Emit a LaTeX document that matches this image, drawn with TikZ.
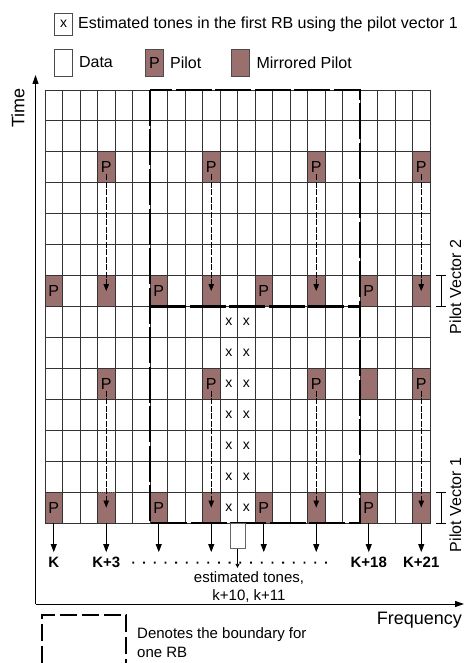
\documentclass[tikz,border=0pt]{standalone}
\usepackage{fontspec}
\setmainfont{Liberation Sans}
\usetikzlibrary{arrows.meta,positioning}
\definecolor{pilotbrown}{RGB}{154,112,110}
\begin{document}
\begin{tikzpicture}[x=1pt, y=-1pt,
    every node/.style={inner sep=0pt, font=\fontsize{16}{19}\selectfont},
    gridline/.style={draw=black!80, line width=0.9pt},
    pilot/.style={draw=black!80, line width=0.9pt, fill=pilotbrown, minimum width=17.5pt, minimum height=30.93pt, font=\fontsize{16}{19}\selectfont},
    keybox/.style={draw=black!70, line width=0.8pt, minimum width=18pt, minimum height=27pt},
    tone/.style={font=\fontsize{14}{16}\selectfont},
    rbline/.style={line width=2.8pt, dash pattern=on 36pt off 3.5pt},
    pvarrow/.style={dash pattern=on 6pt off 1.5pt, line width=0.8pt, -{Triangle[length=7pt,width=5.5pt]}},
    downarrow/.style={line width=1pt, -{Triangle[length=8pt,width=6pt]}},
    axis/.style={line width=1pt, -{Triangle[length=9pt,width=6pt]}},
    bracket/.style={line width=0.8pt, {Bar[width=10pt]}-{Bar[width=10pt]}},
    klabel/.style={font=\bfseries\fontsize{15}{18}\selectfont}]

\useasboundingbox (0,0) rectangle (464,663);

\node[keybox, minimum height=22pt, tone] (keyx) at (63.5,24) {x};
\node[right=5pt of keyx] (keyxtxt) {Estimated tones in the first RB using the pilot vector 1};
\node[keybox] (keydata) at (63.5,62.5) {};
\node[right=6pt of keydata] (keydatatxt) {Data};
\node[keybox, fill=pilotbrown] (keypilot) at (154.5,62.5) {P};
\node[right=6pt of keypilot] (keypilottxt) {Pilot};
\node[keybox, fill=pilotbrown] (keymirror) at (240,62.5) {};
\node[right=7pt of keymirror] (keymirrortxt) {Mirrored Pilot};

\coordinate (origin) at (35.5,604);
\coordinate (timeend) at (35.5,75);
\coordinate (freqend) at (464,604);
\draw[axis] (origin) -- (timeend);
\draw[axis] (origin) -- (freqend);
\node[rotate=90, font=\fontsize{18}{21}\selectfont] (timelbl) at (18,108) {Time};
\node[anchor=east, font=\fontsize{18}{21}\selectfont] (freqlbl) at (462,620) {Frequency};

\begin{scope}[shift={(45pt,-90pt)}, x=17.5pt, y=-30.93pt]
    \foreach \c in {0,...,22} \draw[gridline] (\c,0) -- (\c,14);
    \foreach \r in {0,...,14} \draw[gridline] (0,\r) -- (22,\r);
    \foreach \c in {3,9,15,21} {
        \node[pilot] (p\c-2) at (\c+.5,2.5) {P};
        \node[pilot] (m\c-6) at (\c+.5,6.5) {};
        \node[pilot] (p\c-9) at (\c+.5,9.5) {P};
    }
    \foreach \c in {9,15,21} \node[pilot] (m\c-13) at (\c+.5,13.5) {};
    \node[pilot, densely dotted] (m3-13) at (3.5,13.5) {};
    \foreach \c in {0,6,12,18} {
        \node[pilot] (p\c-6) at (\c+.5,6.5) {P};
        \node[pilot] (p\c-13) at (\c+.5,13.5) {P};
    }
    \node[pilot] (m18-9) at (18.5,9.5) {};
    \draw[rbline] (6,0) rectangle (18,14);
    \draw[rbline] (6,7) -- (18,7);
    \foreach \r in {7,...,13} {
        \node[tone] (x10-\r) at (10.5,\r+.5) {x};
        \node[tone] (x11-\r) at (11.5,\r+.5) {x};
    }
    \foreach \c in {3,9,15,21} {
        \draw[pvarrow] ([yshift=-7pt]p\c-2.center) -- (m\c-6.center);
        \draw[pvarrow] ([yshift=-7pt]p\c-9.center) -- (m\c-13.center);
    }
    \foreach \c in {0,3,...,21} {
        \coordinate (b\c) at (\c+.5,14);
        \coordinate (t\c) at (\c+.5,14.94);
        \draw[downarrow] (b\c) -- (t\c);
    }
    \node[draw=black!60, line width=0.8pt, minimum width=15pt, minimum height=25pt, anchor=north] (estbox) at (11,14) {};
    \coordinate (esttip) at (11,15.45);
\end{scope}

\draw[bracket] ([xshift=10.5pt]m21-6.north east) -- ([xshift=10.5pt]m21-6.south east);
\draw[bracket] ([xshift=10.5pt]m21-13.north east) -- ([xshift=10.5pt]m21-13.south east);
\node[rotate=90] (pv2) at (455.5,287) {Pilot Vector 2};
\node[rotate=90] (pv1) at (455.5,505) {Pilot Vector 1};

\node[klabel, below=5pt of t0] (k0) {K};
\node[klabel, below=5pt of t3] (k3) {K+3};
\node[klabel, below=5pt of t18] (k18) {K+18};
\node[klabel, below=5pt of t21] (k21) {K+21};
\draw[line width=1.8pt, dash pattern=on 1.8pt off 8.9pt] ([xshift=12pt]k3.east) -- ([xshift=-15pt]k18.west);
\draw[line width=0.8pt, -{Triangle[length=4pt,width=4pt]}] (estbox) -- (esttip);
\node[anchor=north, align=center, font=\fontsize{15}{18}\selectfont] (esttxt) at (249,571) {estimated tones,\\k+10, k+11};

\draw[line width=2.6pt, dash pattern=on 17pt off 5pt] (42,663) -- (42,615) -- (126,615) -- (126,663);
\node[anchor=north west, align=left, font=\fontsize{15}{19}\selectfont] (rbnote) at (137,627) {Denotes the boundary for\\one RB};
\end{tikzpicture}
\end{document}
